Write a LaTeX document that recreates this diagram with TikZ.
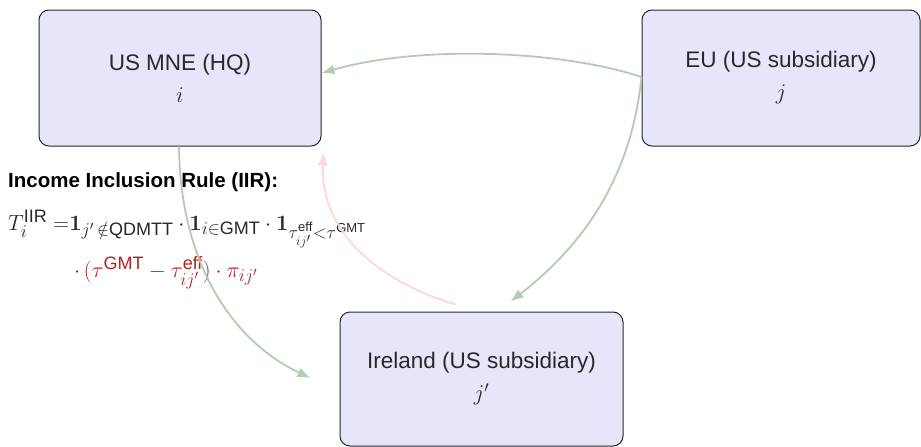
\RequirePackage{fix-cm}
\documentclass[tikz,border=0pt]{standalone}
\usepackage[no-math]{fontspec}
\setmainfont{Liberation Sans}
\usepackage{amsmath,amssymb}
\usetikzlibrary{arrows.meta}
\DeclareMathSizes{22}{22}{18}{13}
\definecolor{lav}{RGB}{230,230,250}
\definecolor{arrgreen}{RGB}{178,204,178}
\definecolor{arrpink}{RGB}{255,214,214}
\definecolor{formred}{RGB}{178,34,34}
\definecolor{txtgray}{RGB}{40,40,40}
\begin{document}
\begin{tikzpicture}[x=1pt,y=-1pt,
  box/.style={draw=black!85, line width=1pt, fill=lav, rounded corners=10pt,
    align=center, text=txtgray, font=\fontsize{22.5}{32}\selectfont, inner sep=0pt},
  arr/.style={draw=arrgreen, line width=1.8pt, -{Latex[length=13pt,width=10pt]}},
  arrp/.style={draw=arrpink, line width=1.8pt, -{Latex[length=13pt,width=10pt]}},
  title/.style={font=\fontsize{20.5}{24}\selectfont\bfseries, text=black, anchor=base west, inner sep=0pt},
  formula/.style={font=\fontsize{22}{24}\selectfont, anchor=base west, inner sep=0pt}
]
\useasboundingbox (0,0) rectangle (921,447);

\node[box, minimum width=282pt, minimum height=136pt] (us) at (180,78) {US MNE (HQ)\\ $i$};
\node[box, minimum width=278pt, minimum height=136pt] (eu) at (781,78) {EU (US subsidiary)\\ $j$};
\node[box, minimum width=283pt, minimum height=134pt] (ir) at (481.5,379) {Ireland (US subsidiary)\\ $j'$};

\node[title] (ttl) at (8,187) {Income Inclusion Rule (IIR):};
\node[formula, text=txtgray] (f1) at (8,230)
  {$T_i^{\text{IIR}}\;{=}\mathbf{1}_{j'\,\notin\text{QDMTT}}\cdot\mathbf{1}_{i\in\text{GMT}}\cdot\mathbf{1}_{\tau^{\text{eff}}_{ij'}<\tau^{\text{GMT}}}$};
\node[formula, text=formred] (f2) at (74,277)
  {$\cdot\,(\tau^{\text{GMT}}-\tau^{\text{eff}}_{ij'})\cdot\pi_{ij'}$};

\coordinate (usin) at ([yshift=5pt]us.east);
\coordinate (irtop) at ([xshift=29pt,yshift=10pt]ir.north);
\coordinate (irleft) at ([xshift=-29pt,yshift=1pt]ir.west);
\coordinate (irstart) at ([xshift=-26pt,yshift=7pt]ir.north);
\coordinate (usse) at ([xshift=2pt,yshift=-6pt]us.south east);
\coordinate (eustart) at ([yshift=1pt]eu.west);

\draw[arr] (eustart) .. controls (560,50) and (420,45) .. (usin);
\draw[arr] (eustart) .. controls (632,170) and (590,240) .. (irtop);
\draw[arr] ([xshift=-1pt]us.south) .. controls (180,260) and (230,340) .. (irleft);
\draw[arrp] (irstart) .. controls (375,280) and (320,230) .. (usse);
\end{tikzpicture}
\end{document}
